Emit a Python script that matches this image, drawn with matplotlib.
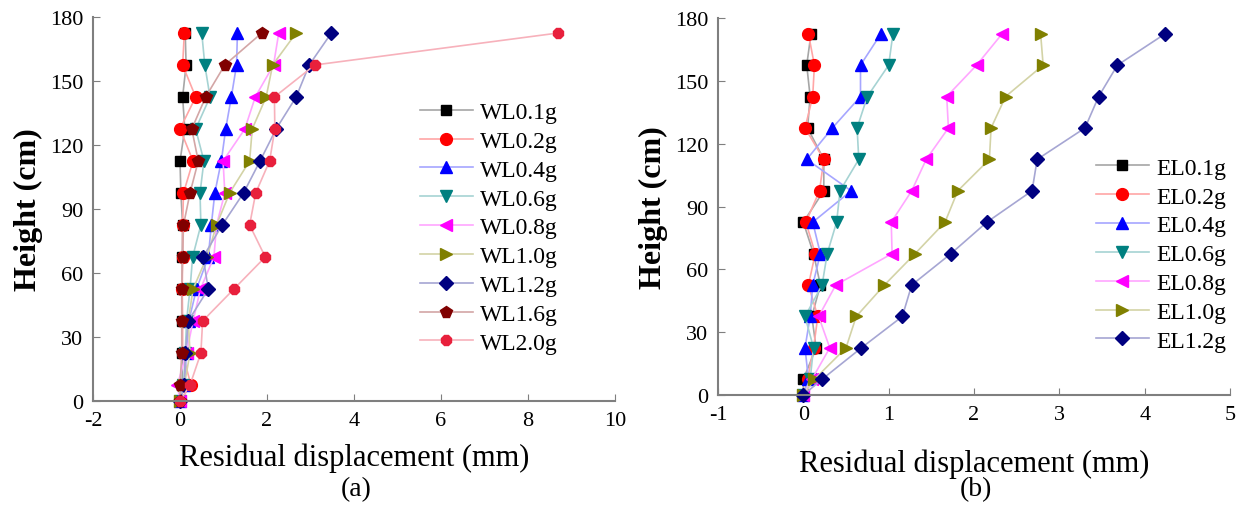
import matplotlib.pyplot as plt
import numpy as np
from matplotlib.colors import to_rgb

plt.rcParams['font.family'] = ['Liberation Serif', 'DejaVu Serif']
plt.rcParams['axes.unicode_minus'] = False

heights = [0, 7.5, 22.5, 37.5, 52.5, 67.5, 82.5, 97.5, 112.5, 127.5, 142.5, 157.5, 172.5]

# panel (a): WL cases, residual displacement (mm), bottom to top
wl_labels = ['WL0.1g', 'WL0.2g', 'WL0.4g', 'WL0.6g', 'WL0.8g',
             'WL1.0g', 'WL1.2g', 'WL1.6g', 'WL2.0g']
wl01 = [0, 0.05, 0.05, 0.05, 0.05, 0.05, 0.06, 0.02, 0.0, 0.11, 0.06, 0.14, 0.12]
wl02 = [0, 0.25, 0.06, 0.06, 0.05, 0.06, 0.06, 0.08, 0.30, 0.0, 0.36, 0.06, 0.10]
wl04 = [0, 0.10, 0.15, 0.20, 0.38, 0.65, 0.72, 0.80, 0.95, 1.05, 1.18, 1.30, 1.32]
wl06 = [0, 0.08, 0.12, 0.15, 0.23, 0.29, 0.48, 0.46, 0.55, 0.36, 0.69, 0.57, 0.50]
wl08 = [0, -0.06, 0.15, 0.30, 0.47, 0.78, 0.84, 1.03, 0.99, 1.49, 1.73, 2.15, 2.27]
wl10 = [0, 0.10, 0.23, 0.19, 0.30, 0.62, 0.84, 1.14, 1.60, 1.66, 1.98, 2.13, 2.67]
wl12 = [0, 0.10, 0.12, 0.19, 0.65, 0.53, 0.97, 1.46, 1.84, 2.21, 2.67, 2.97, 3.48]
wl16 = [0, 0.0, 0.04, 0.04, 0.04, 0.06, 0.08, 0.23, 0.42, 0.27, 0.59, 1.03, 1.88]
wl20 = [0, 0.23, 0.48, 0.52, 1.24, 1.96, 1.60, 1.74, 2.06, 2.18, 2.17, 3.10, 8.70]
wl_data = [wl01, wl02, wl04, wl06, wl08, wl10, wl12, wl16, wl20]

# panel (b): EL cases
el_labels = ['EL0.1g', 'EL0.2g', 'EL0.4g', 'EL0.6g', 'EL0.8g', 'EL1.0g', 'EL1.2g']
el01 = [0, 0.0, 0.15, 0.10, 0.20, 0.12, 0.0, 0.24, 0.24, 0.05, 0.08, 0.04, 0.09]
el02 = [0, 0.05, 0.12, 0.17, 0.06, 0.14, 0.03, 0.19, 0.24, 0.02, 0.11, 0.13, 0.06]
el04 = [0, 0.06, 0.02, 0.08, 0.11, 0.20, 0.11, 0.56, 0.04, 0.34, 0.67, 0.67, 0.91]
el06 = [0, 0.08, 0.12, 0.02, 0.22, 0.28, 0.39, 0.43, 0.65, 0.63, 0.75, 1.00, 1.05]
el08 = [0, 0.10, 0.31, 0.18, 0.38, 1.04, 1.03, 1.27, 1.44, 1.70, 1.68, 2.03, 2.33]
el10 = [0, 0.13, 0.50, 0.62, 0.95, 1.31, 1.66, 1.81, 2.18, 2.20, 2.37, 2.81, 2.78]
el12 = [0, 0.22, 0.68, 1.16, 1.27, 1.73, 2.15, 2.68, 2.74, 3.30, 3.46, 3.68, 4.24]
el_data = [el01, el02, el04, el06, el08, el10, el12]

colors = ['#000000', '#ff0000', '#0000ff', '#008080', '#ff00ff',
          '#808000', '#000080', '#800000', '#e8203c']
markers = ['s', 'o', '^', 'v', '<', '>', 'D', 'p', '8']
msizes = [7, 8.5, 8.5, 8.5, 8.5, 8.5, 7, 8.5, 8.5]


def faded(c, a=0.35):
    r = np.array(to_rgb(c))
    return tuple(r * a + (1 - a))


def style_axis(ax, xlim, xticks, xpad):
    ax.set_xlim(*xlim)
    ax.set_ylim(0, 180)
    ax.set_xticks(xticks)
    ax.set_yticks(np.arange(0, 181, 30))
    for s in ['top', 'right']:
        ax.spines[s].set_visible(False)
    for s in ['left', 'bottom']:
        ax.spines[s].set_color('#7f7f7f')
        ax.spines[s].set_linewidth(1.5)
    ax.tick_params(axis='x', direction='in', length=5, color='#7f7f7f', labelsize=16, pad=7)
    ax.tick_params(axis='y', direction='in', length=5, color='#7f7f7f', labelsize=16, pad=7)
    ax.set_xlabel('Residual displacement (mm)', fontsize=22, labelpad=xpad)
    ax.set_ylabel('Height (cm)', fontsize=23, fontweight='bold', labelpad=5)


fig = plt.figure(figsize=(12.4, 5.06), dpi=100)
ax1 = fig.add_axes([0.075, 0.2055, 0.421, 0.759])
ax2 = fig.add_axes([0.579, 0.2174, 0.413, 0.745])

for vals, lab, c, m, ms in zip(wl_data, wl_labels, colors, markers, msizes):
    ax1.plot(vals, heights, color=faded(c), lw=1.2, marker=m, ms=ms,
             markerfacecolor=c, markeredgecolor=c, label=lab, clip_on=False)
for vals, lab, c, m, ms in zip(el_data, el_labels, colors, markers, msizes):
    ax2.plot(vals, heights, color=faded(c), lw=1.2, marker=m, ms=ms,
             markerfacecolor=c, markeredgecolor=c, label=lab, clip_on=False)

style_axis(ax1, (-2, 10), np.arange(-2, 11, 2), 9)
style_axis(ax2, (-1, 5), np.arange(-1, 6, 1), 18)

leg_kw = dict(loc='upper left', frameon=False, fontsize=17, handlelength=2.25,
              handletextpad=0.3, labelspacing=0.31, borderpad=0, borderaxespad=0)
ax1.legend(bbox_to_anchor=(0.626, 0.78), **leg_kw)
ax2.legend(bbox_to_anchor=(0.738, 0.631), **leg_kw)

fig.text(0.287, 0.032, '(a)', fontsize=20, ha='center', va='center')
fig.text(0.787, 0.032, '(b)', fontsize=20, ha='center', va='center')

fig.savefig('out.png', dpi=100)
